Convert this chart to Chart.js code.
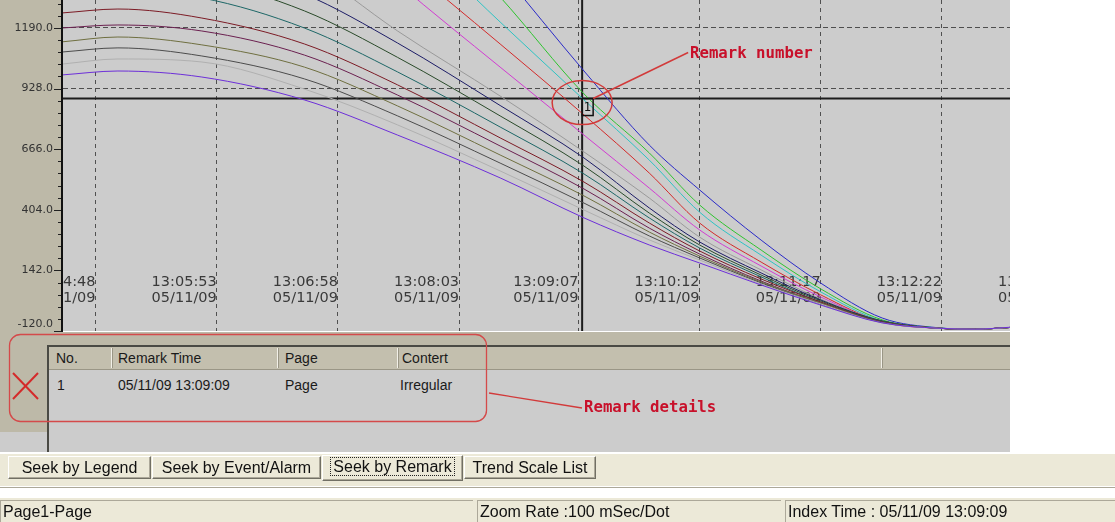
<!DOCTYPE html>
<html>
<head>
<meta charset="utf-8">
<title>Trend view - Seek by Remark</title>
<script src="https://cdn.jsdelivr.net/npm/chart.js@4.4.1/dist/chart.umd.min.js"></script>
<style>
  html, body { margin: 0; padding: 0; }
  body { position: relative; width: 1115px; height: 522px; overflow: hidden; background: #fff;
         font-family: "Liberation Sans", Arial, sans-serif; color: #111; }
  .abs { position: absolute; }
  #trend { position: absolute; left: 0; top: 0; }

  #remarks { left: 0; top: 332px; width: 1010px; height: 120px; background: #cccccc; }
  #remarks .band { left: 0; top: 0; width: 1010px; height: 13px; background: #bdb9a8; border-bottom: 2px solid #4a4a44; }
  #remarks .side { left: 0; top: 0; width: 47px; height: 100px; background: #bdb9a8; }
  #remarks .vline { left: 47px; top: 13px; width: 2px; height: 107px; background: #4a4a44; }
  #remarks .head { left: 49px; top: 15px; width: 961px; height: 22px; background: #c3bfae; border-bottom: 1px solid #9a9686; }
  #remarks span { position: absolute; font-size: 14px; line-height: 20px; white-space: nowrap; color: #1a1a1a; }
  #remarks .sep { position: absolute; top: 16px; width: 1px; height: 20px; background: #f2f0e8; border-right: 1px solid #9a9686; }

  .note { position: absolute; font-family: "DejaVu Sans Mono", monospace; font-weight: bold; font-size: 15.7px;
          line-height: 18px; color: #c8102a; white-space: nowrap; }

  #tabbar { left: 0; top: 452px; width: 1115px; height: 32px; background: #ece9d8; border-top: 2px solid #fff; }
  .tab { position: absolute; top: 2px; height: 23px; box-sizing: border-box; border: 1px solid;
         border-color: #fff #716f64 #716f64 #fff; box-shadow: inset -1px -1px 0 #aca899;
         font-size: 16px; line-height: 21px; text-align: center; background: #ece9d8; color: #111; white-space: nowrap; }
  .tab.on { top: 1px; height: 26px; }
  .tab.on b { font-weight: normal; border: 1px dotted #222; padding: 0 2px; }
  #divider { left: 0; top: 487px; width: 1115px; height: 0; border-top: 1px solid #aca899; border-bottom: 1px solid #fff; }
  #status { left: 0; top: 498px; width: 1115px; height: 24px; background: #ece9d8; }
  .cell { position: absolute; top: 2px; height: 22px; box-sizing: border-box; border-top: 1px solid #aca899;
          border-left: 1px solid #aca899; font-size: 16px; line-height: 21px; padding-left: 2px; white-space: nowrap; color: #111; }
  svg { position: absolute; left: 0; top: 0; pointer-events: none; }
</style>
</head>
<body>
<canvas id="trend" width="1010" height="332"></canvas>

<div id="remarks" class="abs">
  <div class="band abs"></div>
  <div class="side abs"></div>
  <div class="vline abs"></div>
  <div class="head abs"></div>
  <div class="sep" style="left:111px"></div>
  <div class="sep" style="left:277px"></div>
  <div class="sep" style="left:397px"></div>
  <div class="sep" style="left:881px"></div>
  <span style="left:56px; top:16px">No.</span>
  <span style="left:118px; top:16px">Remark Time</span>
  <span style="left:285px; top:16px">Page</span>
  <span style="left:402px; top:16px">Contert</span>
  <span style="left:57px; top:43px">1</span>
  <span style="left:118px; top:43px">05/11/09 13:09:09</span>
  <span style="left:285px; top:43px">Page</span>
  <span style="left:400px; top:43px">Irregular</span>
</div>

<svg width="1115" height="522">
  <line x1="13" y1="373" x2="38" y2="399" stroke="#d42a2a" stroke-width="2"/>
  <line x1="38" y1="373" x2="13" y2="399" stroke="#d42a2a" stroke-width="2"/>
  <rect x="9.5" y="334.5" width="477" height="87" rx="11" fill="none" stroke="#d44a4a" stroke-width="1.3"/>
  <line x1="489" y1="393" x2="582" y2="408" stroke="#d23a3a" stroke-width="1.3"/>
</svg>

<div class="note" style="left:690px; top:44px">Remark number</div>
<div class="note" style="left:584px; top:398px">Remark details</div>

<div id="tabbar" class="abs">
  <div class="tab" style="left:8px; width:143px">Seek by Legend</div>
  <div class="tab" style="left:152px; width:169px">Seek by Event/Alarm</div>
  <div class="tab on" style="left:322px; width:141px"><b>Seek by Remark</b></div>
  <div class="tab" style="left:464px; width:132px">Trend Scale List</div>
</div>
<div id="divider" class="abs"></div>
<div id="status" class="abs">
  <div class="cell" style="left:0; width:473px">Page1-Page</div>
  <div class="cell" style="left:477px; width:304px">Zoom Rate :100 mSec/Dot</div>
  <div class="cell" style="left:785px; width:330px">Index Time : 05/11/09 13:09:09</div>
</div>

<script>
// sample instants shared by every pen
const sampleTimes = ['13:04:30', '13:05:00', '13:05:45', '13:06:40', '13:07:30', '13:08:25', '13:09:10',
                     '13:09:45', '13:10:12', '13:10:45', '13:11:17', '13:11:50', '13:12:20', '13:12:40', '13:13:00'];

// pen values, lowest curve first
const pen1  = [987, 1004, 978, 879, 727, 542, 369, 252, 174, 79, -8, -85, -108, -112, -103];
const pen2  = [1034, 1056, 1043, 926, 771, 572, 403, 274, 187, 83, -3, -85, -108, -112, -104];
const pen3  = [1086, 1104, 1069, 970, 810, 606, 433, 291, 196, 88, -3, -83, -108, -112, -104];
const pen4  = [1130, 1151, 1117, 1021, 853, 641, 464, 308, 204, 92, 1, -83, -108, -112, -104];
const pen5  = [1190, 1203, 1177, 1073, 900, 680, 494, 325, 213, 96, 1, -81, -108, -112, -104];
const pen6  = [1255, 1272, 1233, 1121, 944, 715, 524, 347, 226, 105, 5, -81, -108, -112, -104];
const pen7  = [1333, 1354, 1320, 1190, 1000, 762, 559, 369, 239, 114, 5, -79, -108, -112, -104];
const pen8  = [1406, 1432, 1398, 1264, 1063, 810, 593, 390, 252, 122, 10, -77, -108, -112, -104];
const pen9  = [1484, 1510, 1475, 1337, 1125, 855, 628, 412, 265, 131, 14, -77, -108, -112, -104];
const pen10 = [1700, 1710, 1680, 1462, 1177, 896, 654, 455, 286, 144, 18, -77, -108, -112, -104];
const pen11 = [1820, 1830, 1810, 1743, 1385, 1021, 727, 498, 317, 161, 27, -81, -108, -112, -104];
const pen12 = [1900, 1910, 1895, 1852, 1493, 1121, 814, 563, 347, 178, 36, -81, -108, -112, -104];
const pen13 = [1990, 2000, 1990, 1960, 1635, 1216, 879, 619, 394, 208, 49, -77, -107, -112, -104];
const pen14 = [2110, 2120, 2110, 2089, 1787, 1324, 905, 650, 425, 230, 62, -72, -107, -112, -104];
const pen15 = [2240, 2250, 2240, 2219, 1960, 1441, 1004, 684, 490, 273, 87, -64, -106, -112, -104];
const pens = [pen1, pen2, pen3, pen4, pen5, pen6, pen7, pen8, pen9, pen10, pen11, pen12, pen13, pen14, pen15];

const penColors = ['#6d2fd9', '#b0b0b0', '#4c4c4c', '#6f6f40', '#6b2050', '#7c1b25', '#1d6767', '#2a4a2a',
                   '#1c1c66', '#9a9a9a', '#d23cd2', '#d42a2a', '#2ec4c4', '#2ec42e', '#2a2ac8'];

// axes
const xTickTimes = ['13:04:48', '13:05:53', '13:06:58', '13:08:03', '13:09:07', '13:10:12', '13:11:17', '13:12:22', '13:13:27'];
const xTickDate = '05/11/09';
const yTickValues = [-120, 142, 404, 666, 928, 1190];
const yGridRows = [928, 1190];

// index cursor / remark
const remarkTime = '13:09:09';
const remarkNo = '1';
const cursorValue = 885;

// seconds since 13:00:00
const toSec = t => { const [h, m, s] = t.split(':').map(Number); return (h - 13) * 3600 + m * 60 + s; };

// keep the plot flush with the canvas edges
const noScalePadding = s => { s.paddingLeft = 0; s.paddingRight = 0; s.paddingTop = 0; s.paddingBottom = 0; };

const trendFrame = {
  id: 'trendFrame',
  beforeDraw(chart) {
    const { ctx, chartArea: a } = chart;
    ctx.save();
    ctx.fillStyle = '#cccccc';
    ctx.fillRect(a.left, a.top, a.right - a.left, a.bottom - a.top);
    ctx.restore();
  },
  beforeDatasetsDraw(chart) {
    const { ctx, chartArea: a, scales: { x, y } } = chart;
    ctx.save();
    // value panel (also hides the first time label where it runs past the axis)
    ctx.fillStyle = '#bdb9a8';
    ctx.fillRect(0, 0, a.left, chart.height);
    ctx.strokeStyle = '#222';
    ctx.lineWidth = 1;
    const minor = (yTickValues[1] - yTickValues[0]) / 5;
    for (let k = 0; yTickValues[0] + k * minor <= y.max; k++) {
      const py = Math.round(y.getPixelForValue(yTickValues[0] + k * minor)) + 0.5;
      const len = k % 5 === 0 ? 8 : 4;
      ctx.beginPath();
      ctx.moveTo(a.left - len, py);
      ctx.lineTo(a.left, py);
      ctx.stroke();
    }
    // index cursor
    const cx = x.getPixelForValue(toSec(remarkTime));
    const cy = y.getPixelForValue(cursorValue);
    ctx.strokeStyle = '#1c1c1c';
    ctx.lineWidth = 2;
    ctx.beginPath();
    ctx.moveTo(a.left, cy);
    ctx.lineTo(a.right, cy);
    ctx.moveTo(cx, 0);
    ctx.lineTo(cx, a.bottom);
    ctx.stroke();
    ctx.restore();
  },
  afterDatasetsDraw(chart) {
    const { ctx, scales: { x, y } } = chart;
    const cx = x.getPixelForValue(toSec(remarkTime));
    const cy = y.getPixelForValue(cursorValue);
    ctx.save();
    ctx.strokeStyle = '#111';
    ctx.lineWidth = 1.5;
    ctx.strokeRect(cx, cy, 11, 17);
    ctx.fillStyle = '#111';
    ctx.font = '12px "DejaVu Sans"';
    ctx.textAlign = 'center';
    ctx.textBaseline = 'middle';
    ctx.fillText(remarkNo, cx + 5.5, cy + 9);
    // red callout
    ctx.strokeStyle = '#d23a3a';
    ctx.lineWidth = 1.5;
    ctx.beginPath();
    ctx.ellipse(cx, cy + 4, 30, 22, 0, 0, Math.PI * 2);
    ctx.stroke();
    ctx.beginPath();
    ctx.moveTo(cx + 11, cy);
    ctx.lineTo(cx + 106, cy - 46);
    ctx.stroke();
    ctx.restore();
  }
};

const data = {
  datasets: pens.map((p, i) => ({
    label: 'Pen ' + (i + 1),
    data: sampleTimes.map((t, k) => ({ x: toSec(t), y: p[k] })),
    borderColor: penColors[i],
    borderWidth: 1,
    pointRadius: 0,
    cubicInterpolationMode: 'monotone',
    fill: false
  }))
};

const config = {
  type: 'line',
  data,
  plugins: [trendFrame],
  options: {
    responsive: false,
    animation: false,
    events: [],
    layout: { padding: { top: 0, right: 0, bottom: 1, left: 0 }, autoPadding: false },
    plugins: {
      legend: { display: false },
      tooltip: { enabled: false }
    },
    scales: {
      x: {
        type: 'linear',
        min: 270,
        max: 778.5,
        afterBuildTicks: s => { s.ticks = xTickTimes.map(t => ({ value: toSec(t) })); },
        afterFit: s => { s.height = 0; noScalePadding(s); },
        grid: { drawTicks: false, color: '#505050', lineWidth: 1 },
        border: { display: false, dash: [4, 4] },
        ticks: {
          autoSkip: false, maxRotation: 0, minRotation: 0,
          align: 'end', mirror: true, padding: 41,
          color: '#3a3a3a',
          font: { family: 'DejaVu Sans', size: 14.5, lineHeight: '15.5px' },
          callback: (v, i) => [xTickTimes[i], xTickDate]
        }
      },
      y: {
        min: -120,
        max: 1311,
        afterBuildTicks: s => { s.ticks = yTickValues.map(v => ({ value: v })); },
        afterFit: s => { s.width = 62; noScalePadding(s); },
        grid: {
          drawTicks: false,
          lineWidth: 1,
          color: c => (c.tick && yGridRows.includes(c.tick.value)) ? '#4e4e4e' : 'rgba(0,0,0,0)'
        },
        border: { display: true, color: '#111', width: 2, dash: [5, 3], z: 1 },
        ticks: {
          z: 1, padding: 9, color: '#333',
          font: { family: 'DejaVu Sans', size: 11 },
          callback: v => v === yTickValues[0] ? [v.toFixed(1), ''] : v.toFixed(1)
        }
      }
    }
  }
};

new Chart(document.getElementById('trend'), config);
</script>
</body>
</html>
